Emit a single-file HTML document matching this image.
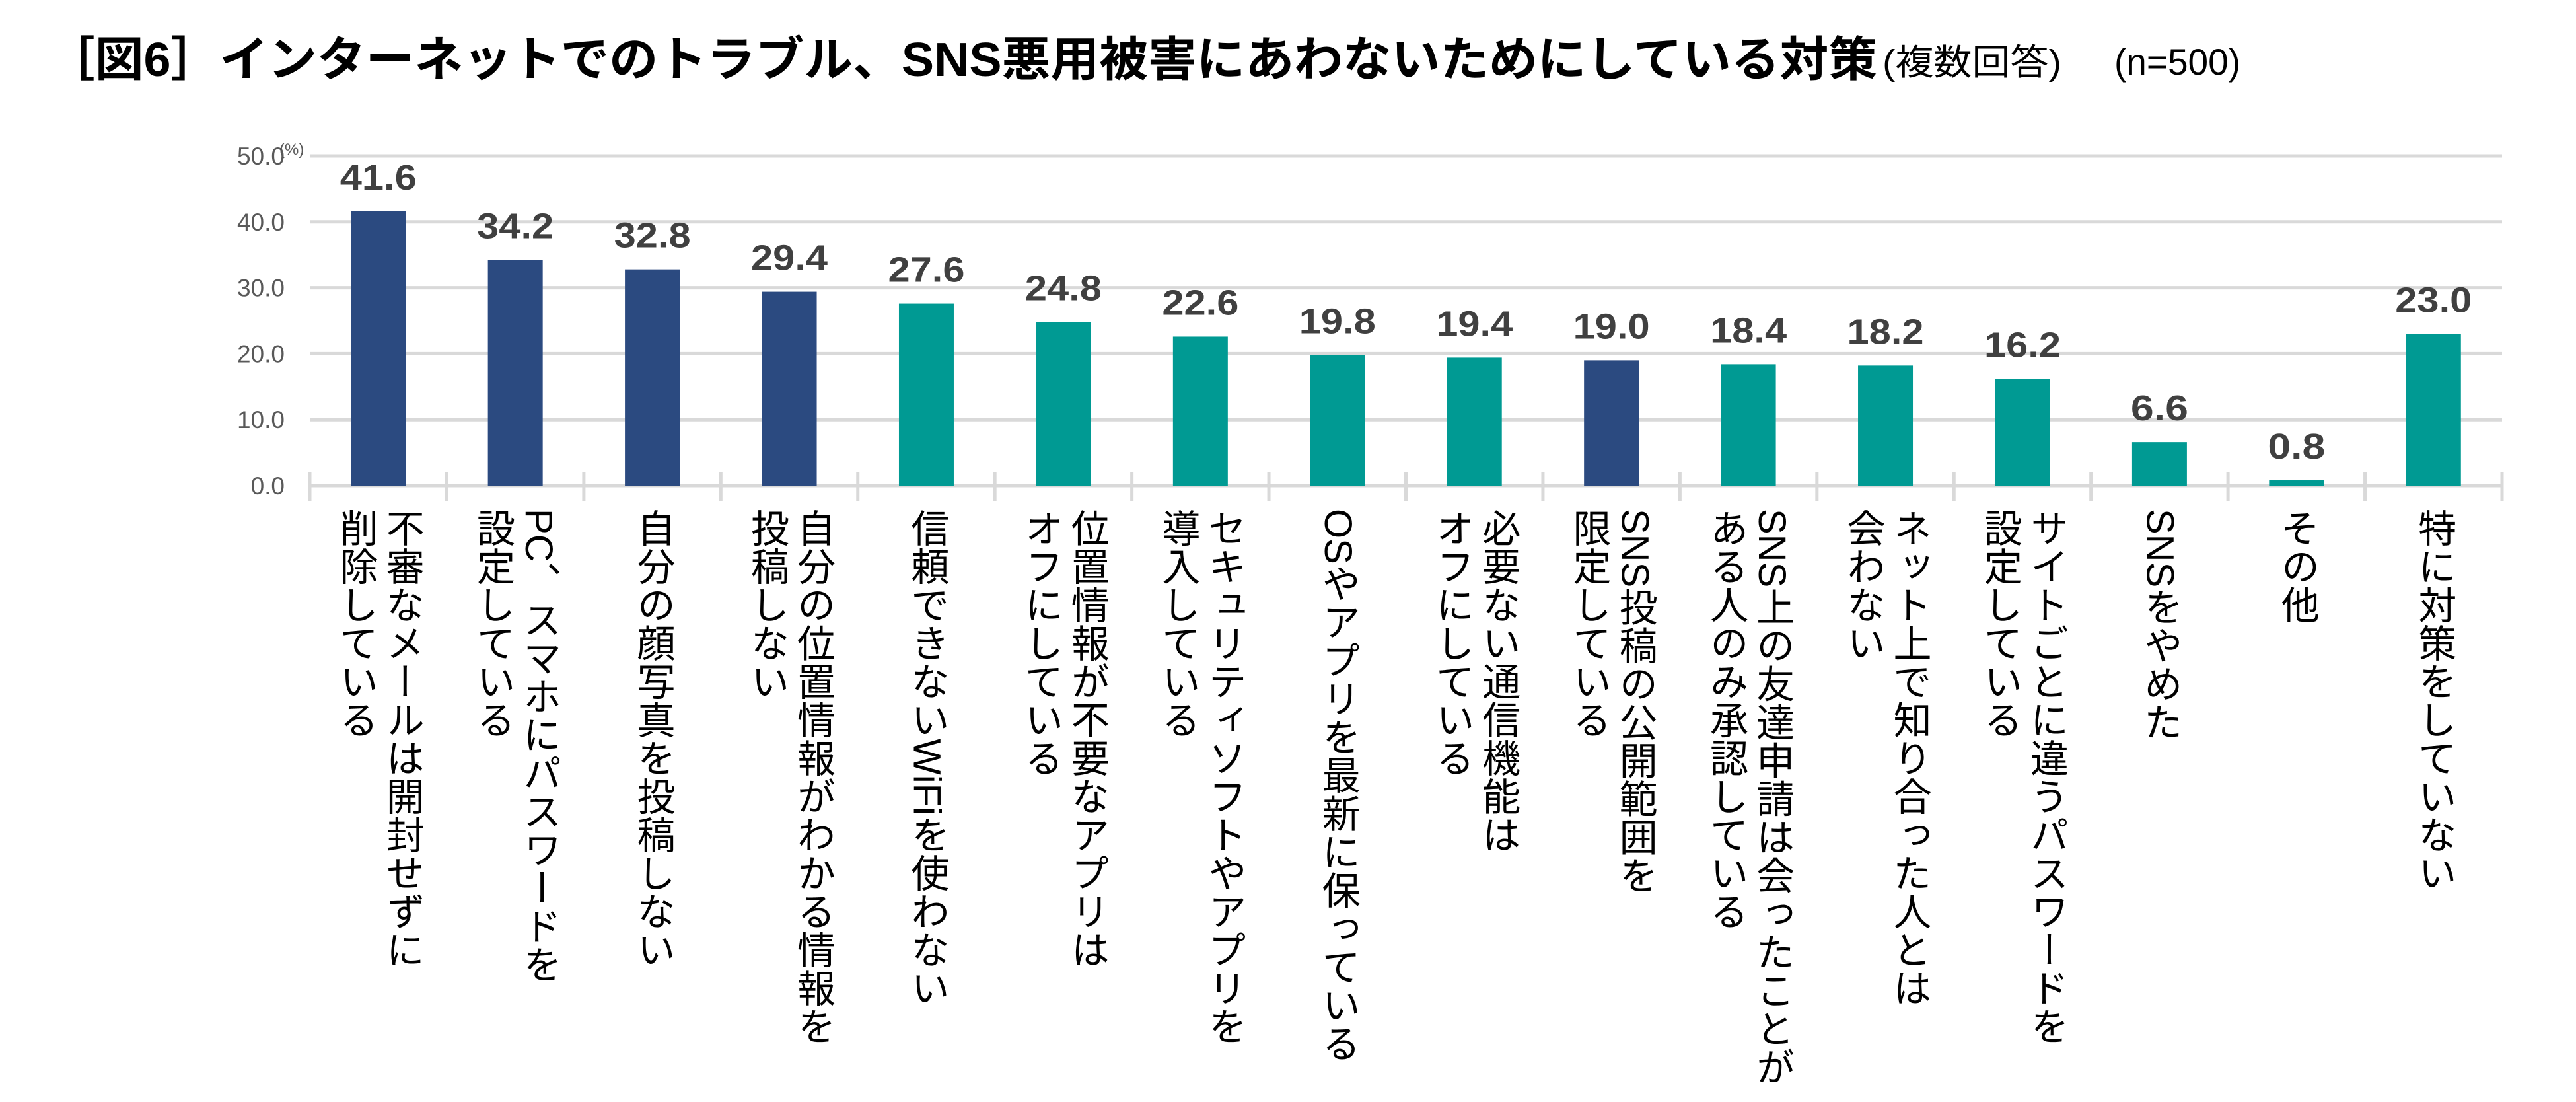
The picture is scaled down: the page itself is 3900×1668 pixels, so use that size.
<!DOCTYPE html>
<html><head><meta charset="utf-8"><style>
html,body{margin:0;padding:0;background:#fff;}
#wrap{position:relative;width:3900px;height:1668px;overflow:hidden;background:#fff;}
.cat{position:absolute;top:770px;writing-mode:vertical-rl;font-family:"Liberation Sans","Noto Sans CJK JP",sans-serif;font-size:58px;line-height:70px;color:#000;white-space:pre;}
</style></head><body>
<div id="wrap">
<svg id="svg" width="3900" height="1668" style="position:absolute;left:0;top:0">
<text x="70" y="115" font-family="'Liberation Sans','Noto Sans CJK JP',sans-serif" font-weight="bold" font-size="72" textLength="2772" lengthAdjust="spacingAndGlyphs">［図6］インターネットでのトラブル、SNS悪用被害にあわないためにしている対策</text>
<text x="2850" y="113" font-family="'Liberation Sans','Noto Sans CJK JP',sans-serif" font-size="54" textLength="271" lengthAdjust="spacingAndGlyphs">(複数回答)</text>
<text x="3201" y="113" font-family="'Liberation Sans','Noto Sans CJK JP',sans-serif" font-size="56" textLength="191" lengthAdjust="spacingAndGlyphs">(n=500)</text>
<text x="423" y="234" font-family="'Liberation Sans',sans-serif" font-size="24" fill="#595959">(%)</text>
<g id="grid"></g><g id="bars"></g>
</svg>
</div>
<script>
const categories=["不審なメールは開封せずに\n削除している","PC、スマホにパスワードを\n設定している","自分の顔写真を投稿しない","自分の位置情報がわかる情報を\n投稿しない","信頼できないWiFiを使わない","位置情報が不要なアプリは\nオフにしている","セキュリティソフトやアプリを\n導入している","OSやアプリを最新に保っている","必要ない通信機能は\nオフにしている","SNS投稿の公開範囲を\n限定している","SNS上の友達申請は会ったことが\nある人のみ承認している","ネット上で知り合った人とは\n会わない","サイトごとに違うパスワードを\n設定している","SNSをやめた","その他","特に対策をしていない"];
const values=[41.6,34.2,32.8,29.4,27.6,24.8,22.6,19.8,19.4,19.0,18.4,18.2,16.2,6.6,0.8,23.0];
const highlight=[1,1,1,1,0,0,0,0,0,1,0,0,0,0,0,0];
const yTicks=[0,10,20,30,40,50];
const NS="http://www.w3.org/2000/svg";
const x0=469,x1=3788,yBase=735,yTop=236,yMax=50;
const step=(x1-x0)/categories.length;
function y(v){return yBase-(v/yMax)*(yBase-yTop);}
function xc(i){return x0+step*(i+0.5);}
const grid=document.getElementById('grid'),bars=document.getElementById('bars'),wrap=document.getElementById('wrap');
function mk(t,a){const e=document.createElementNS(NS,t);for(const k in a)e.setAttribute(k,a[k]);return e;}
yTicks.forEach(t=>{
 const l=mk('line',{x1:x0,x2:x1,y1:y(t),y2:y(t),stroke:'#d9d9d9','stroke-width':5});
 
 
 grid.appendChild(l);
 const tx=mk('text',{x:431,y:y(t)+13,'text-anchor':'end','font-family':"'Liberation Sans',sans-serif",'font-size':37,fill:'#595959'});
 tx.textContent=t.toFixed(1);
 
 
 grid.appendChild(tx);
});
for(let i=0;i<=categories.length;i++){
 const l=mk('line',{x1:x0+step*i,x2:x0+step*i,y1:714,y2:758,stroke:'#d9d9d9','stroke-width':5});
 
 
 grid.appendChild(l);
}
values.forEach((v,i)=>{
 const w=83;
 const r=mk('rect',{x:xc(i)-w/2,y:y(v),width:w,height:yBase-y(v),fill:highlight[i]?'#2B4A80':'#009A93'});
 
 
 bars.appendChild(r);
 const s=v.toFixed(1);
 const t=mk('text',{x:xc(i),y:y(v)-33,'text-anchor':'middle','font-family':"'Liberation Sans',sans-serif",'font-weight':'bold','font-size':54,fill:'#404040',textLength:s.length*29,lengthAdjust:'spacingAndGlyphs'});
 t.textContent=s;
 
 
 bars.appendChild(t);
 const d=document.createElement('div');
 d.className='cat';
 d.textContent=categories[i];
 
 
 wrap.appendChild(d);
 d.style.left=(xc(i)-d.offsetWidth/2)+'px';
});
</script>
</body></html>
